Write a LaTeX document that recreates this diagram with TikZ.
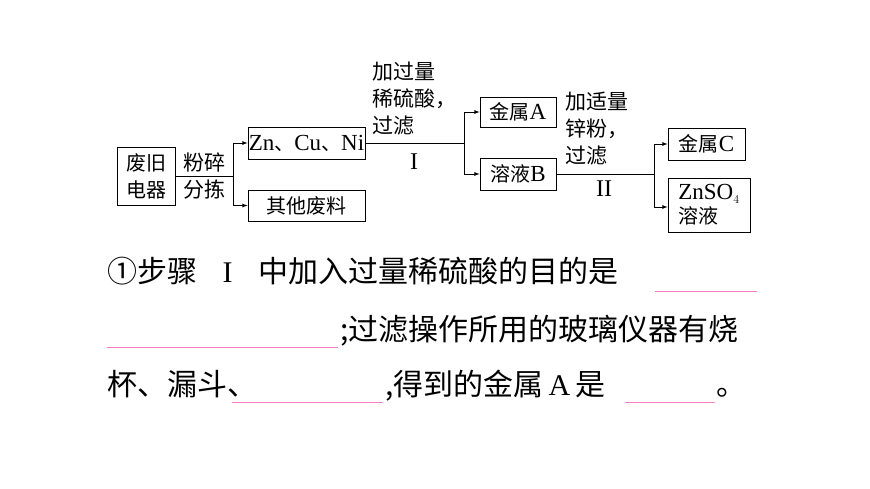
\documentclass[tikz,border=0pt]{standalone}
\usepackage{fontspec}
\setmainfont{Liberation Serif}
\newfontfamily\cjk{Noto Sans CJK SC}
\newcommand{\lat}[1]{{\fontsize{23pt}{23pt}\selectfont\rmfamily #1}}
\usetikzlibrary{arrows}
\tikzset{
  box/.style={draw, thick, inner sep=2pt, font=\fontsize{20pt}{22pt}\selectfont\cjk},
  lbl/.style={align=left, inner sep=0pt, font=\fontsize{21pt}{27pt}\selectfont\cjk},
  flow/.style={thick, -latex},
  q/.style={anchor=base west, inner sep=0pt, font=\fontsize{30pt}{34pt}\selectfont\cjk},
  blank/.style={draw=magenta!50, thin}
}
\begin{document}
\begin{tikzpicture}[x=1pt,y=-1pt]
\useasboundingbox (0,0) rectangle (870,489);
% boxes
\node[box, minimum width=58pt, minimum height=58pt, align=center, font=\fontsize{20pt}{27pt}\selectfont\cjk] (fjdq) at (146,176) {废旧\\电器};
\node[box, minimum width=117pt, minimum height=32pt, inner sep=0pt] (zcn) at (306.5,143) {\lat{Zn}、\lat{Cu}、\lat{Ni}};
\node[box, minimum width=117pt, minimum height=31pt] (qtfl) at (306.5,205.5) {其他废料};
\node[box, minimum width=76pt, minimum height=30pt] (jsA) at (518,112) {金属\lat{A}};
\node[box, minimum width=76pt, minimum height=32pt] (ryB) at (518,174) {溶液\lat{B}};
\node[box, minimum width=77pt, minimum height=32pt] (jsC) at (706.5,144) {金属\lat{C}};
\node[box, minimum width=82pt, minimum height=54pt, align=left, font=\fontsize{20pt}{24pt}\selectfont\cjk] (znso) at (709,205) {\lat{ZnSO$_{\scriptscriptstyle 4}$}\\溶液};
% junctions
\coordinate (j1) at (233,176);
\coordinate (j2) at (464,143);
\coordinate (j3) at (654,174);
\draw[thick] (fjdq.east) -- (j1);
\draw[flow] (j1) |- (zcn.west);
\draw[flow] (j1) |- (qtfl.west);
\draw[thick] (zcn.east) -- (j2);
\draw[flow] (j2) |- (jsA.west);
\draw[flow] (j2) |- (ryB.west);
\draw[thick] (ryB.east) -- (j3);
\draw[flow] (j3) |- (jsC.west);
\draw[flow] (j3) |- (znso.west |- 0,207);
% labels
\node[lbl, align=center] (l0) at (204,176) {粉碎\\分拣};
\node[lbl, anchor=north west] (l1) at (372,62) {加过量\\稀硫酸，\\过滤};
\node[font=\fontsize{24pt}{24pt}\selectfont, inner sep=0pt] (r1) at (414,162) {I};
\node[lbl, anchor=north west] (l2) at (565,92) {加适量\\锌粉，\\过滤};
\node[font=\fontsize{24pt}{24pt}\selectfont, inner sep=0pt] (r2) at (604,189) {II};
% question text
\node[q] (t1) at (107,282) {①步骤\hspace{0.85em}{\rmfamily I}\hspace{0.85em}中加入过量稀硫酸的目的是};
\draw[blank] (655,291) -- (757,291);
\draw[blank] (107,347) -- (338,347);
\node[q] (t2) at (340,340) {;过滤操作所用的玻璃仪器有烧};
\node[q] (t3) at (107,395) {杯、漏斗、};
\draw[blank] (232,402) -- (383,402);
\node[q] (t4) at (385,395) {,得到的金属{\rmfamily\,A\,}是};
\draw[blank] (625,402) -- (715,402);
\node[q] (t5) at (716,395) {。};
\end{tikzpicture}
\end{document}
